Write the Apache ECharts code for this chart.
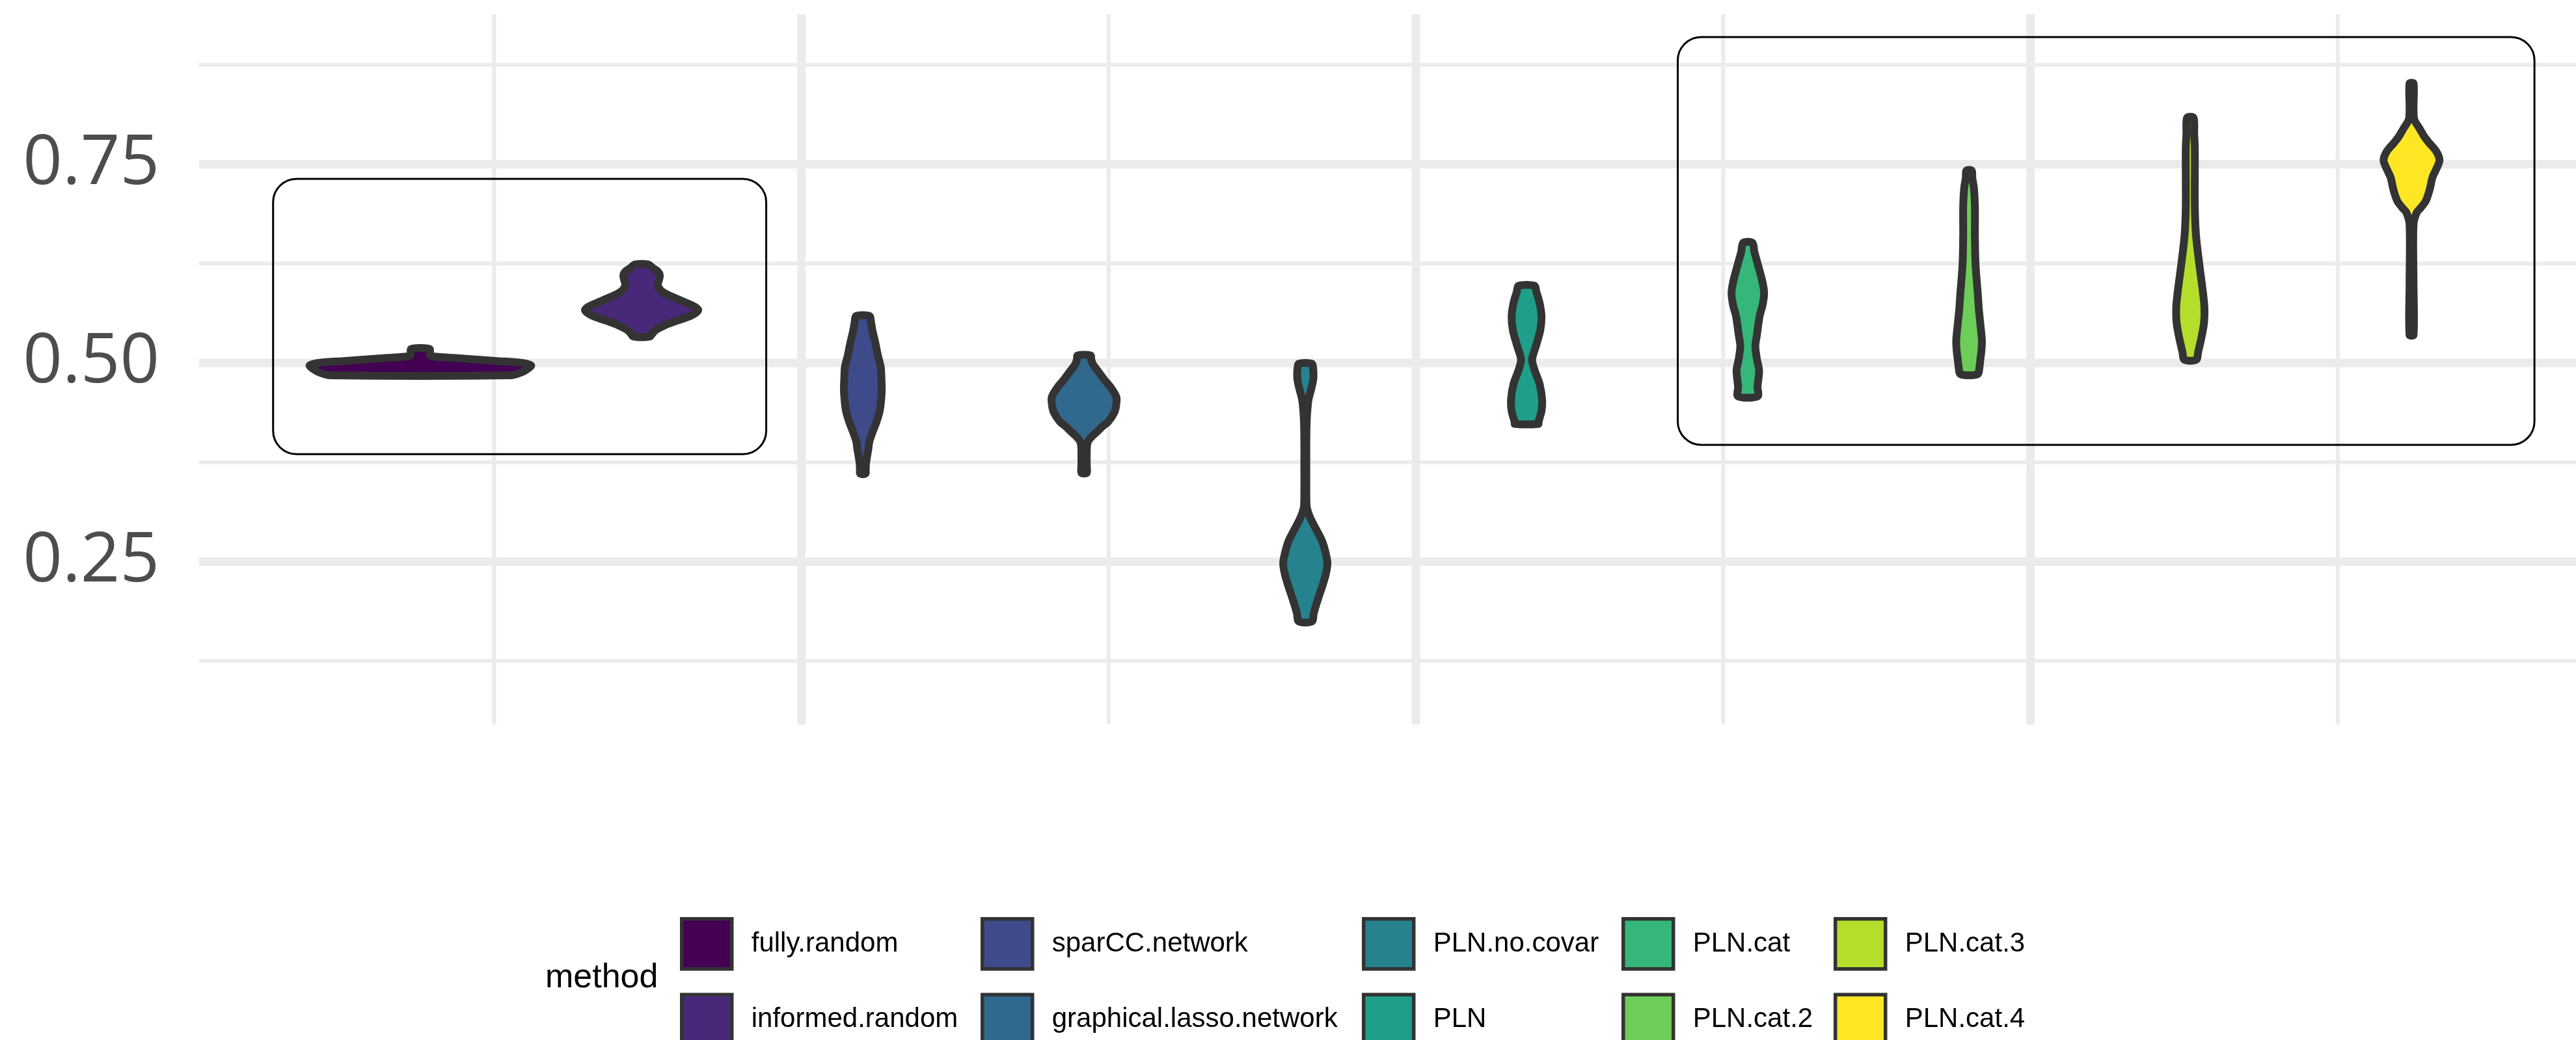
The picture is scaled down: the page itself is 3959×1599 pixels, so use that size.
<!DOCTYPE html>
<html>
<head>
<meta charset="utf-8">
<script src="https://cdn.jsdelivr.net/npm/echarts/dist/echarts.min.js"></script>
<style>
html,body{margin:0;padding:0;background:#ffffff;}
#chart{width:3959px;height:1599px;}
</style>
</head>
<body>
<div id="chart"></div>
<script>
// ---------------- data ----------------
const methods = ['fully.random','informed.random','sparCC.network','graphical.lasso.network','PLN.no.covar','PLN','PLN.cat','PLN.cat.2','PLN.cat.3','PLN.cat.4'];

// violin outlines: [value, relative density width]
const fullyRandom = [[0.4845,0.824],[0.488,0.912],[0.492,0.965],[0.497,1.0],[0.5002,0.906],[0.5023,0.700],[0.5043,0.500],[0.5063,0.300],[0.5084,0.106],[0.510,0.088],[0.5175,0.082]];
const informedRandom = [[0.5333,0.076],[0.5375,0.10],[0.5415,0.129],[0.545,0.176],[0.549,0.235],[0.5525,0.306],[0.556,0.382],[0.5595,0.447],[0.5635,0.494],[0.5665,0.512],[0.5695,0.494],[0.573,0.447],[0.5775,0.371],[0.5815,0.306],[0.5857,0.235],[0.5895,0.188],[0.5939,0.159],[0.5993,0.147],[0.605,0.159],[0.6102,0.165],[0.615,0.147],[0.619,0.106],[0.6238,0.059]];
const sparCCNetwork = [[0.3606,0.024],[0.366,0.026],[0.374,0.029],[0.3822,0.038],[0.392,0.05],[0.401,0.059],[0.413,0.088],[0.426,0.124],[0.44,0.153],[0.453,0.165],[0.4665,0.171],[0.48,0.168],[0.4947,0.162],[0.51,0.135],[0.526,0.112],[0.54,0.088],[0.551,0.074],[0.559,0.059]];
const graphicalLassoNetwork = [[0.3617,0.024],[0.372,0.024],[0.384,0.024],[0.395,0.026],[0.401,0.035],[0.4075,0.071],[0.4135,0.118],[0.42,0.165],[0.426,0.218],[0.4385,0.276],[0.448,0.291],[0.457,0.292],[0.468,0.247],[0.479,0.182],[0.4885,0.132],[0.4978,0.082],[0.504,0.065],[0.5094,0.059]];
const plnNoCovar = [[0.1747,0.059],[0.185,0.076],[0.1948,0.096],[0.207,0.124],[0.2198,0.155],[0.234,0.185],[0.248,0.2],[0.262,0.182],[0.276,0.151],[0.29,0.10],[0.3025,0.053],[0.3104,0.029],[0.32,0.012],[0.34,0.009],[0.37,0.009],[0.40,0.009],[0.425,0.012],[0.44,0.018],[0.454,0.029],[0.467,0.053],[0.4785,0.071],[0.4853,0.074],[0.493,0.071],[0.499,0.059]];
const pln = [[0.4233,0.106],[0.426,0.108],[0.4394,0.135],[0.453,0.141],[0.4734,0.118],[0.4904,0.074],[0.504,0.05],[0.5209,0.084],[0.5413,0.124],[0.5583,0.135],[0.5753,0.118],[0.5897,0.088],[0.5969,0.073]];
const plnCat = [[0.458,0.088],[0.47,0.088],[0.4904,0.102],[0.505,0.082],[0.521,0.068],[0.535,0.082],[0.5583,0.106],[0.574,0.135],[0.5889,0.147],[0.604,0.129],[0.6263,0.086],[0.64,0.059],[0.6512,0.041]];
const plnCat2 = [[0.4858,0.076],[0.4945,0.094],[0.5029,0.101],[0.5155,0.112],[0.5285,0.116],[0.5504,0.101],[0.5685,0.088],[0.5869,0.079],[0.6235,0.059],[0.66,0.053],[0.6965,0.053],[0.72,0.044],[0.733,0.029],[0.742,0.024]];
const plnCat3 = [[0.504,0.053],[0.5139,0.071],[0.5321,0.101],[0.5504,0.124],[0.5687,0.128],[0.5869,0.116],[0.6235,0.082],[0.66,0.052],[0.6965,0.041],[0.7696,0.041],[0.788,0.035],[0.8085,0.029]];
const plnCat4 = [[0.5352,0.018],[0.60,0.018],[0.6746,0.018],[0.6892,0.047],[0.695,0.082],[0.7038,0.129],[0.7185,0.165],[0.733,0.188],[0.744,0.224],[0.755,0.253],[0.766,0.224],[0.7769,0.159],[0.7842,0.118],[0.7952,0.071],[0.8061,0.025],[0.8208,0.018],[0.8516,0.018]];

const profiles = [fullyRandom, informedRandom, sparCCNetwork, graphicalLassoNetwork, plnNoCovar, pln, plnCat, plnCat2, plnCat3, plnCat4];

// axis breaks / tick labels
const yLabelValues = [0.25, 0.5, 0.75];
const yMinorBreaks = [0.125, 0.375, 0.625, 0.875];
const xMajorBreaks = [0.75, 1, 1.25];
const xMinorBreaks = [0.625, 0.875, 1.125, 1.375];

// highlighted groups: [xmin, ymin, xmax, ymax] in data units
const highlightBoxes = [[0.5351, 0.3852, 0.7357, 0.7316], [1.1065, 0.3969, 1.455, 0.9100]];

// ---------------- styles / layout ----------------
const fillColors = ['#440154','#482878','#3E4A89','#31688E','#26828E','#1F9E89','#35B779','#6DCD59','#B4DE2C','#FDE725'];
const groupX = 1, dodgeWidth = 0.9;
const slot = dodgeWidth / methods.length;
const halfMax = slot / 2;
const legendLefts = [1045, 1507, 2093, 2492, 2818];

const chart = echarts.init(document.getElementById('chart'), null, {renderer: 'canvas'});

function violinRenderer(idx) {
  const profile = profiles[idx];
  const xc = groupX + (idx - (methods.length - 1) / 2) * slot;
  return function (params, api) {
    if (params.dataIndex !== 0) return null;
    const left = [], right = [];
    profile.forEach(function (p) {
      left.push(api.coord([xc - p[1] * halfMax, p[0]]));
      right.push(api.coord([xc + p[1] * halfMax, p[0]]));
    });
    const pts = left.concat(right.reverse());
    return {
      type: 'polygon',
      shape: {points: pts, smooth: 0.3},
      style: {fill: fillColors[idx], stroke: '#333333', lineWidth: 12, lineJoin: 'round'},
      z2: 5
    };
  };
}

const gridItems = [];
yLabelValues.forEach(v => gridItems.push([v, 0, 1]));
yMinorBreaks.forEach(v => gridItems.push([v, 0, 0]));
xMajorBreaks.forEach(v => gridItems.push([v, 1, 1]));
xMinorBreaks.forEach(v => gridItems.push([v, 1, 0]));

const series = [];
series.push({
  type: 'custom',
  name: '__grid',
  silent: true,
  z: 1,
  data: gridItems,
  renderItem: function (params, api) {
    const item = gridItems[params.dataIndex];
    const cs = params.coordSys;
    const w = item[2] ? 13 : 6;
    if (item[1] === 0) {
      const y = api.coord([0.8, item[0]])[1];
      return {type: 'line', shape: {x1: cs.x, y1: y, x2: cs.x + cs.width, y2: y}, style: {stroke: '#EBEBEB', lineWidth: w}};
    } else {
      const x = api.coord([item[0], 0.5])[0];
      return {type: 'line', shape: {x1: x, y1: cs.y, x2: x, y2: cs.y + cs.height}, style: {stroke: '#EBEBEB', lineWidth: w}};
    }
  }
});

methods.forEach(function (m, i) {
  series.push({
    type: 'custom',
    name: m,
    z: 3,
    silent: true,
    itemStyle: {color: fillColors[i], borderColor: '#333333', borderWidth: 5},
    data: profiles[i],
    renderItem: violinRenderer(i)
  });
});

series.push({
  type: 'custom',
  name: '__boxes',
  silent: true,
  z: 5,
  data: highlightBoxes,
  renderItem: function (params, api) {
    const b = highlightBoxes[params.dataIndex];
    const p0 = api.coord([b[0], b[3]]);
    const p1 = api.coord([b[2], b[1]]);
    return {
      type: 'rect',
      shape: {x: p0[0], y: p0[1], width: p1[0] - p0[0], height: p1[1] - p0[1], r: 36},
      style: {fill: null, stroke: '#000000', lineWidth: 3}
    };
  }
});

const legends = legendLefts.map(function (left, c) {
  return {
    orient: 'vertical',
    left: left,
    top: 1410,
    height: 400,
    width: 600,
    padding: 0,
    itemWidth: 77,
    itemHeight: 77,
    itemGap: 34,
    icon: 'rect',
    selectedMode: false,
    data: [methods[2 * c], methods[2 * c + 1]].map(function (n) {
      const i = methods.indexOf(n);
      return {name: n, icon: 'rect', itemStyle: {color: fillColors[i], borderColor: '#333333', borderWidth: 5.5}};
    }),
    textStyle: {fontSize: 42, color: '#000000', fontFamily: 'Liberation Sans', padding: [0, 0, 0, 25]}
  };
});

const option = {
  animation: false,
  backgroundColor: '#ffffff',
  grid: {left: 306, top: 22, right: 0, bottom: 485, containLabel: false},
  xAxis: {
    type: 'value', min: 0.505, max: 1.4719,
    axisLine: {show: false}, axisTick: {show: false}, axisLabel: {show: false}, splitLine: {show: false}
  },
  yAxis: {
    type: 'value', min: 0.045, max: 0.9386,
    axisLine: {show: false}, axisTick: {show: false}, splitLine: {show: false},
    axisLabel: {
      customValues: yLabelValues,
      formatter: function (v) { return Number(v).toFixed(2); },
      fontSize: 106, color: '#4D4D4D', fontFamily: 'Open Sans', margin: 61
    }
  },
  legend: legends,
  graphic: [{
    type: 'text', left: 838, top: 1478,
    style: {text: 'method', fontSize: 52, fontFamily: 'Liberation Sans', fill: '#000000'}
  }],
  series: series
};
chart.setOption(option);
</script>
</body>
</html>
